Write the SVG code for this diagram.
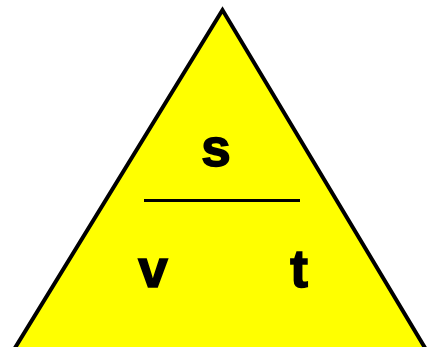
<svg xmlns="http://www.w3.org/2000/svg" width="427" height="347" viewBox="0 0 427 347">
<style>
.lbl{font-family:"Liberation Sans",Arial,sans-serif;font-weight:bold;font-size:53px;fill:#000;stroke:#000;stroke-width:1.6;text-anchor:middle}
</style>
<rect width="427" height="347" fill="#fff"/>
<g id="triangle">
<polygon points="222.5,10 0.2,372 439.5,372" fill="#ffff00" stroke="#000" stroke-width="4" stroke-linejoin="miter"/>
</g>
<g id="divider">
<line x1="144" y1="200.5" x2="300" y2="200.5" stroke="#000" stroke-width="3"/>
</g>
<g id="node-s"><text class="lbl" x="216" y="166">s</text></g>
<g id="node-v"><text class="lbl" x="153" y="287">v</text></g>
<g id="node-t"><text class="lbl" x="299" y="287">t</text></g>
</svg>
